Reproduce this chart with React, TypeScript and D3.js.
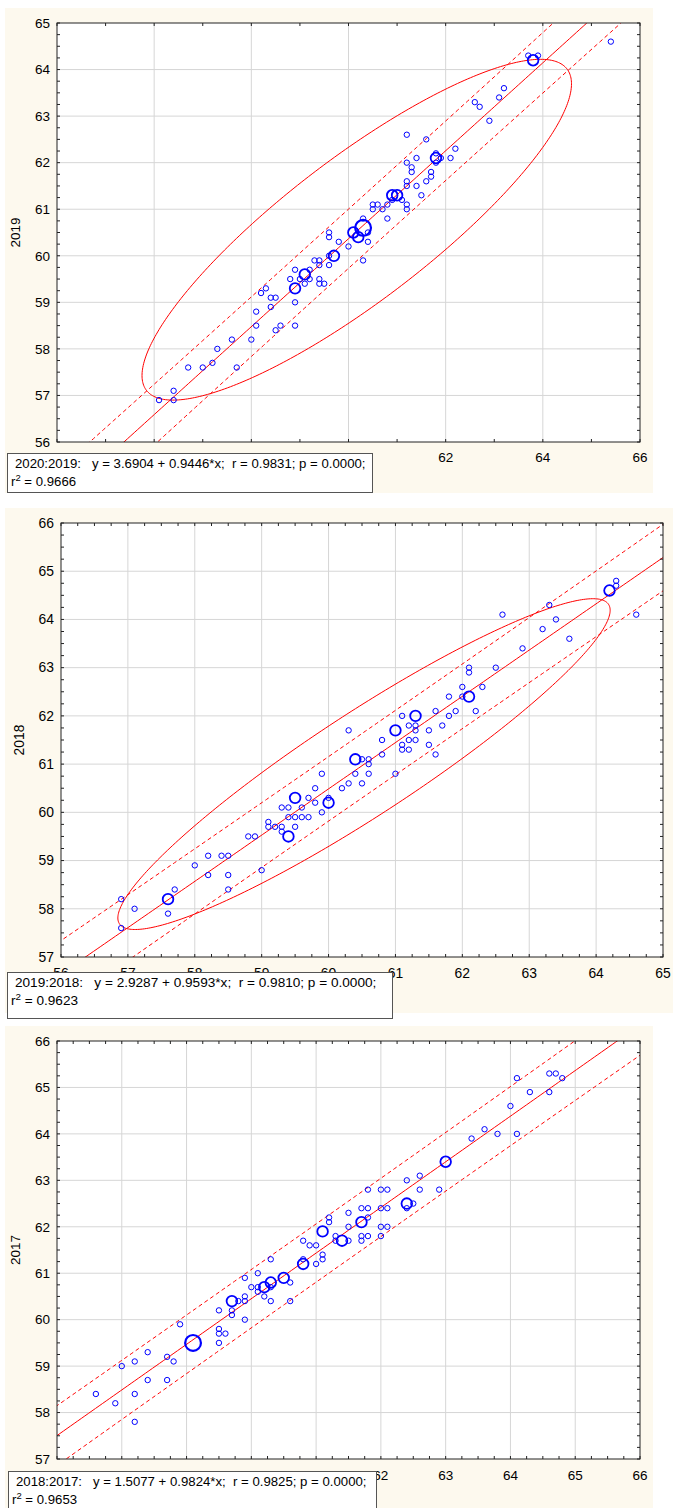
import React from 'react';
import * as d3 from 'd3';

// ---------- DATA ----------
// [x, y, count]
const P1_POINTS: number[][] = [
  [65.4,64.6,1],[63.7,64.3,1],[63.9,64.3,1],[63.8,64.2,2],[63.2,63.6,1],[63.1,63.4,1],[62.6,63.3,1],[62.7,63.2,1],
  [62.9,62.9,1],[61.2,62.6,1],[61.6,62.5,1],[62.2,62.3,1],[62.1,62.1,1],[61.8,62.1,2],[61.8,62.2,1],[61.8,62.0,1],
  [61.9,62.1,1],[61.2,62.0,1],[61.3,61.9,1],[61.3,61.8,1],[61.4,62.1,1],[61.7,61.8,1],[61.7,61.7,1],[61.6,61.6,1],
  [61.2,61.6,1],[61.2,61.5,1],[61.4,61.5,1],[61.5,61.3,1],[61.1,61.2,1],[61.2,61.1,1],[61.2,61.0,1],[60.9,61.3,2],
  [61.0,61.3,2],[60.8,61.1,1],[60.9,61.2,1],[60.7,61.0,1],[60.8,60.8,1],[60.5,61.1,1],[60.6,61.1,1],[60.5,61.0,1],
  [60.3,60.6,3],[60.1,60.5,2],[60.2,60.4,2],[60.3,60.8,1],[60.4,60.3,1],[60.4,60.5,1],[60.0,60.2,1],[60.3,59.9,1],
  [59.8,60.3,1],[59.6,60.5,1],[59.6,60.4,1],[59.7,60.0,2],[59.6,60.0,1],[59.6,59.8,1],[59.3,59.9,1],[59.4,59.9,1],
  [59.4,59.8,1],[59.2,59.7,1],[59.1,59.6,2],[59.4,59.5,1],[59.4,59.4,1],[59.5,59.4,1],[59.2,59.5,1],[59.0,59.5,1],
  [59.1,59.4,1],[58.9,59.7,1],[58.8,59.5,1],[58.9,59.3,2],[58.9,59.0,1],[58.9,58.5,1],[58.6,58.5,1],[58.5,58.4,1],
  [58.3,59.3,1],[58.2,59.2,1],[58.4,59.1,1],[58.5,59.1,1],[58.4,58.9,1],[58.1,58.8,1],[58.1,58.5,1],[58.0,58.2,1],
  [57.6,58.2,1],[57.3,58.0,1],[57.2,57.7,1],[57.0,57.6,1],[56.7,57.6,1],[57.7,57.6,1],[56.4,57.1,1],[56.4,56.9,1],
  [56.1,56.9,1],
];

const P2_POINTS: number[][] = [
  [64.6,64.1,1],[64.3,64.8,1],[64.3,64.7,1],[64.2,64.6,2],[63.3,64.3,1],[62.6,64.1,1],[63.4,64.0,1],[63.2,63.8,1],
  [63.6,63.6,1],[62.9,63.4,1],[62.5,63.0,1],[62.1,63.0,1],[62.1,62.9,1],[62.0,62.6,1],[62.3,62.6,1],[62.1,62.4,2],
  [62.0,62.4,1],[61.8,62.4,1],[62.2,62.1,1],[61.9,62.1,1],[61.8,62.0,1],[61.6,62.1,1],[61.7,61.8,1],[61.5,61.7,1],
  [61.5,61.4,1],[61.6,61.2,1],[61.3,62.0,2],[61.1,62.0,1],[61.2,61.8,1],[61.3,61.8,1],[61.0,61.7,2],[61.3,61.7,1],
  [61.2,61.5,1],[61.3,61.5,1],[61.1,61.4,1],[61.1,61.3,1],[61.2,61.3,1],[60.8,61.5,1],[60.8,61.2,1],[61.0,60.8,1],
  [60.3,61.7,1],[60.4,61.1,2],[60.5,61.1,1],[60.6,61.1,1],[60.6,61.0,1],[60.6,60.8,1],[60.4,60.8,1],[60.5,60.6,1],
  [60.3,60.6,1],[60.2,60.5,1],[59.9,60.8,1],[59.8,60.5,1],[60.0,60.2,2],[60.0,60.3,1],[59.8,60.2,1],[59.7,60.3,1],
  [59.9,60.0,1],[59.5,60.3,2],[59.6,60.1,1],[59.4,60.1,1],[59.3,60.1,1],[59.4,59.9,1],[59.5,59.9,1],[59.6,59.9,1],
  [59.7,59.9,1],[59.4,59.5,2],[59.3,59.7,1],[59.5,59.7,1],[59.1,59.8,1],[59.1,59.7,1],[59.2,59.7,1],[59.3,59.6,1],
  [58.8,59.5,1],[58.9,59.5,1],[59.0,58.8,1],[58.4,59.1,1],[58.5,59.1,1],[58.2,59.1,1],[58.0,58.9,1],[58.2,58.7,1],
  [58.5,58.7,1],[58.5,58.4,1],[57.7,58.4,1],[57.6,58.2,2],[57.6,57.9,1],[57.1,58.0,1],[56.9,58.2,1],[56.9,57.6,1],
];

const P3_POINTS: number[][] = [
  [64.8,65.2,1],[64.6,65.3,1],[64.7,65.3,1],[64.6,64.9,1],[64.3,64.9,1],[64.1,65.2,1],[64.0,64.6,1],[64.1,64.0,1],
  [63.8,64.0,1],[63.6,64.1,1],[63.4,63.9,1],[63.0,63.4,2],[62.6,63.1,1],[62.4,63.0,1],[62.6,62.8,1],[62.9,62.8,1],
  [62.0,62.8,1],[62.1,62.8,1],[61.8,62.8,1],[62.4,62.5,2],[62.5,62.5,1],[62.4,62.4,1],[62.0,62.4,1],[62.1,62.4,1],
  [61.7,62.4,1],[61.8,62.4,1],[61.5,62.3,1],[61.8,62.2,1],[61.7,62.1,2],[62.0,62.0,1],[62.1,62.0,1],[61.5,62.0,1],
  [62.0,61.8,1],[61.7,61.8,1],[61.8,61.8,1],[61.7,61.7,1],[61.2,62.2,1],[61.2,62.1,1],[61.1,61.9,2],[61.3,61.8,1],
  [61.4,61.7,2],[61.5,61.7,1],[61.3,61.7,1],[60.8,61.7,1],[60.9,61.6,1],[61.0,61.6,1],[61.1,61.4,1],[61.1,61.3,1],
  [61.0,61.2,1],[60.8,61.2,2],[60.8,61.3,1],[60.3,61.3,1],[60.5,60.9,2],[60.6,60.8,1],[60.6,60.4,1],[60.3,60.8,2],
  [60.3,60.7,1],[60.3,60.4,1],[60.2,60.7,2],[60.1,61.0,1],[60.0,60.7,1],[60.1,60.7,1],[60.1,60.6,1],[60.2,60.5,1],
  [59.9,60.9,1],[59.9,60.5,1],[59.9,60.4,1],[59.8,60.4,1],[59.7,60.4,2],[59.7,60.2,1],[59.7,60.1,1],[59.9,60.0,1],
  [59.5,60.2,1],[59.5,59.8,1],[59.5,59.7,1],[59.6,59.7,1],[59.5,59.5,1],[59.1,59.5,3],[58.9,59.9,1],[58.7,59.2,1],
  [58.8,59.1,1],[58.7,58.7,1],[58.4,59.3,1],[58.4,58.7,1],[58.2,59.1,1],[58.0,59.0,1],[58.2,58.4,1],[57.6,58.4,1],
  [57.9,58.2,1],[58.2,57.8,1],
];

const PAIR_LABELS = ['2020:2019:', '2019:2018:', '2018:2017:'];
const Y_TITLES = ['2019', '2018', '2017'];
const INTERCEPTS = [3.6904, 2.9287, 1.5077];
const SLOPES = [0.9446, 0.9593, 0.9824];
const R_VALUES = ['0.9831', '0.9810', '0.9825'];
const P_VALUES = ['0.0000', '0.0000', '0.0000'];
const R2_VALUES = ['0.9666', '0.9623', '0.9653'];
const X_DOMAINS = [[54, 66], [56, 65], [57, 66]];
const Y_DOMAINS = [[56, 65], [57, 66], [57, 66]];
const X_LABEL_STEPS = [2, 1, 1];
const X_MINOR_STEPS = [1, 0.25, 0.25];
// ellipse: [centre x, centre y, half-range x, half-range y, shape correlation]
const ELLIPSES: (number[] | null)[] = [
  [60.17, 60.56, 4.42, 3.66, 0.856],
  [60.53, 61.0, 3.68, 3.43, 0.93],
  null,
];

// ---------- LAYOUT ----------
const LAYOUTS = [
  { bg: [5, 8, 648, 485], plot: [57, 640, 23, 442], box: [7, 453, 365, 39], font: 13.2, xlab: 20 },
  { bg: [5, 508, 668, 505], plot: [61, 663, 523, 957], box: [7, 972, 385, 46], font: 13.6, xlab: 21 },
  { bg: [5, 1026, 648, 482], plot: [57, 640, 1041, 1459], box: [8, 1471, 368, 42], font: 13.2, xlab: 21 },
];

const FONT = "'Liberation Sans', Arial, Helvetica, sans-serif";
const RED = '#ff0000';
const BLUE = '#0000ff';

function computeStats(pts: number[][], a: number, b: number) {
  let N = 0, sx = 0;
  pts.forEach(([x, , n]) => { N += n; sx += n * x; });
  const mx = sx / N;
  let Sxx = 0, SSE = 0;
  pts.forEach(([x, y, n]) => {
    Sxx += n * (x - mx) ** 2;
    SSE += n * (y - (a + b * x)) ** 2;
  });
  const s = Math.sqrt(SSE / (N - 2));
  return { N, mx, Sxx, s };
}

function Panel({ i }: { i: number }) {
  const L = LAYOUTS[i];
  const pts = [P1_POINTS, P2_POINTS, P3_POINTS][i];
  const a = INTERCEPTS[i], b = SLOPES[i];
  const [pl, pr, pt, pb] = L.plot;
  const xd = X_DOMAINS[i], yd = Y_DOMAINS[i];
  const x = d3.scaleLinear().domain(xd).range([pl, pr]);
  const y = d3.scaleLinear().domain(yd).range([pb, pt]);
  const st = computeStats(pts, a, b);
  const tval = 1.984;
  const clipId = `clip${i}`;

  const line = d3.line<[number, number]>().x(d => x(d[0])).y(d => y(d[1]));
  const xs = d3.range(0, 201).map(k => xd[0] - 1 + (xd[1] - xd[0] + 2) * k / 200);
  const regPath = line(xs.map(v => [v, a + b * v]));
  const hw = (v: number) => tval * st.s * Math.sqrt(1 + 1 / st.N + (v - st.mx) ** 2 / st.Sxx);
  const upPath = line(xs.map(v => [v, a + b * v + hw(v)]));
  const loPath = line(xs.map(v => [v, a + b * v - hw(v)]));

  let ellPath: string | null = null;
  const E = ELLIPSES[i];
  if (E) {
    const [cx, cy, ax, ay, rho] = E;
    const phi = Math.acos(rho);
    const ring: [number, number][] = d3.range(0, 361).map(dg => {
      const t = (dg * Math.PI) / 180;
      return [cx + ax * Math.cos(t), cy + ay * Math.cos(t - phi)];
    });
    ellPath = line(ring);
  }

  const xLabels = d3.range(xd[0], xd[1] + 1e-6, X_LABEL_STEPS[i]);
  const xMinor = d3.range(xd[0], xd[1] + 1e-6, X_MINOR_STEPS[i]);
  const yLabels = d3.range(yd[0], yd[1] + 1e-6, 1);
  const yMinor = d3.range(yd[0], yd[1] + 1e-6, 0.25);
  const tick = 3;
  const [bx, by, bw, bh] = L.box;
  const [gx, gy, gw, gh] = L.bg;
  const rad = (n: number) => 2.7 + (n - 1) * 2.6;
  const sw = (n: number) => (n === 1 ? 1 : n === 2 ? 1.8 : 2.2);

  return (
    <g>
      <defs>
        <clipPath id={clipId}><rect x={pl} y={pt} width={pr - pl} height={pb - pt} /></clipPath>
      </defs>
      <rect x={gx} y={gy} width={gw} height={gh} fill="#fdf9ee" />
      <rect x={pl} y={pt} width={pr - pl} height={pb - pt} fill="#ffffff" />
      {xLabels.filter(v => v > xd[0] && v < xd[1]).map(v => (
        <line key={'gx' + v} x1={x(v)} x2={x(v)} y1={pt} y2={pb} stroke="#d6d6d6" strokeWidth={1} />
      ))}
      {yLabels.filter(v => v > yd[0] && v < yd[1]).map(v => (
        <line key={'gy' + v} x1={pl} x2={pr} y1={y(v)} y2={y(v)} stroke="#d6d6d6" strokeWidth={1} />
      ))}
      <g clipPath={`url(#${clipId})`}>
        {ellPath && <path d={ellPath} fill="none" stroke={RED} strokeWidth={1} />}
        <path d={upPath!} fill="none" stroke={RED} strokeWidth={1} strokeDasharray="4,3" />
        <path d={loPath!} fill="none" stroke={RED} strokeWidth={1} strokeDasharray="4,3" />
        <path d={regPath!} fill="none" stroke={RED} strokeWidth={1} />
      </g>
      {pts.map(([px, py, n], j) => (
        <circle key={j} cx={x(px)} cy={y(py)} r={rad(n)} fill="none" stroke={BLUE} strokeWidth={sw(n)} />
      ))}
      <rect x={pl} y={pt} width={pr - pl} height={pb - pt} fill="none" stroke="#222" strokeWidth={1} />
      {xMinor.map(v => (
        <g key={'tx' + v}>
          <line x1={x(v)} x2={x(v)} y1={pb} y2={pb - tick} stroke="#222" />
          <line x1={x(v)} x2={x(v)} y1={pt} y2={pt + tick} stroke="#222" />
        </g>
      ))}
      {yMinor.map(v => (
        <g key={'ty' + v}>
          <line x1={pl} x2={pl + tick} y1={y(v)} y2={y(v)} stroke="#222" />
          <line x1={pr} x2={pr - tick} y1={y(v)} y2={y(v)} stroke="#222" />
        </g>
      ))}
      {yLabels.map(v => (
        <text key={'ly' + v} x={pl - 7} y={y(v) + 4.8} textAnchor="end" fontSize={L.font + 0.3} fontFamily={FONT} fill="#000">{v}</text>
      ))}
      {xLabels.map(v => (
        <text key={'lx' + v} x={x(v)} y={pb + L.xlab} textAnchor="middle" fontSize={L.font + 0.3} fontFamily={FONT} fill="#000">{v}</text>
      ))}
      <text transform={`translate(${pl - 37},${(pt + pb) / 2}) rotate(-90)`} textAnchor="middle" fontSize={L.font + 0.3} fontFamily={FONT} fill="#000">{Y_TITLES[i]}</text>
      <rect x={bx + 0.5} y={by + 0.5} width={bw} height={bh} fill="#ffffff" stroke="#555" strokeWidth={1} />
      <text x={bx + 8} y={by + 15} fontSize={L.font} fontFamily={FONT} fill="#000" style={{ whiteSpace: 'pre' }}>
        {`${PAIR_LABELS[i]}   y = ${INTERCEPTS[i].toFixed(4)} + ${SLOPES[i].toFixed(4)}*x;  r = ${R_VALUES[i]}; p = ${P_VALUES[i]};`}
      </text>
      <text x={bx + 4} y={by + 33} fontSize={L.font} fontFamily={FONT} fill="#000" style={{ whiteSpace: 'pre' }}>
        r<tspan dy={-5} fontSize={L.font * 0.72}>2</tspan><tspan dy={5}>{` = ${R2_VALUES[i]}`}</tspan>
      </text>
    </g>
  );
}

export default function App() {
  return (
    <svg width={673} height={1508} style={{ position: 'absolute', left: 0, top: 0, background: '#ffffff' }}>
      <Panel i={0} />
      <Panel i={1} />
      <Panel i={2} />
    </svg>
  );
}
